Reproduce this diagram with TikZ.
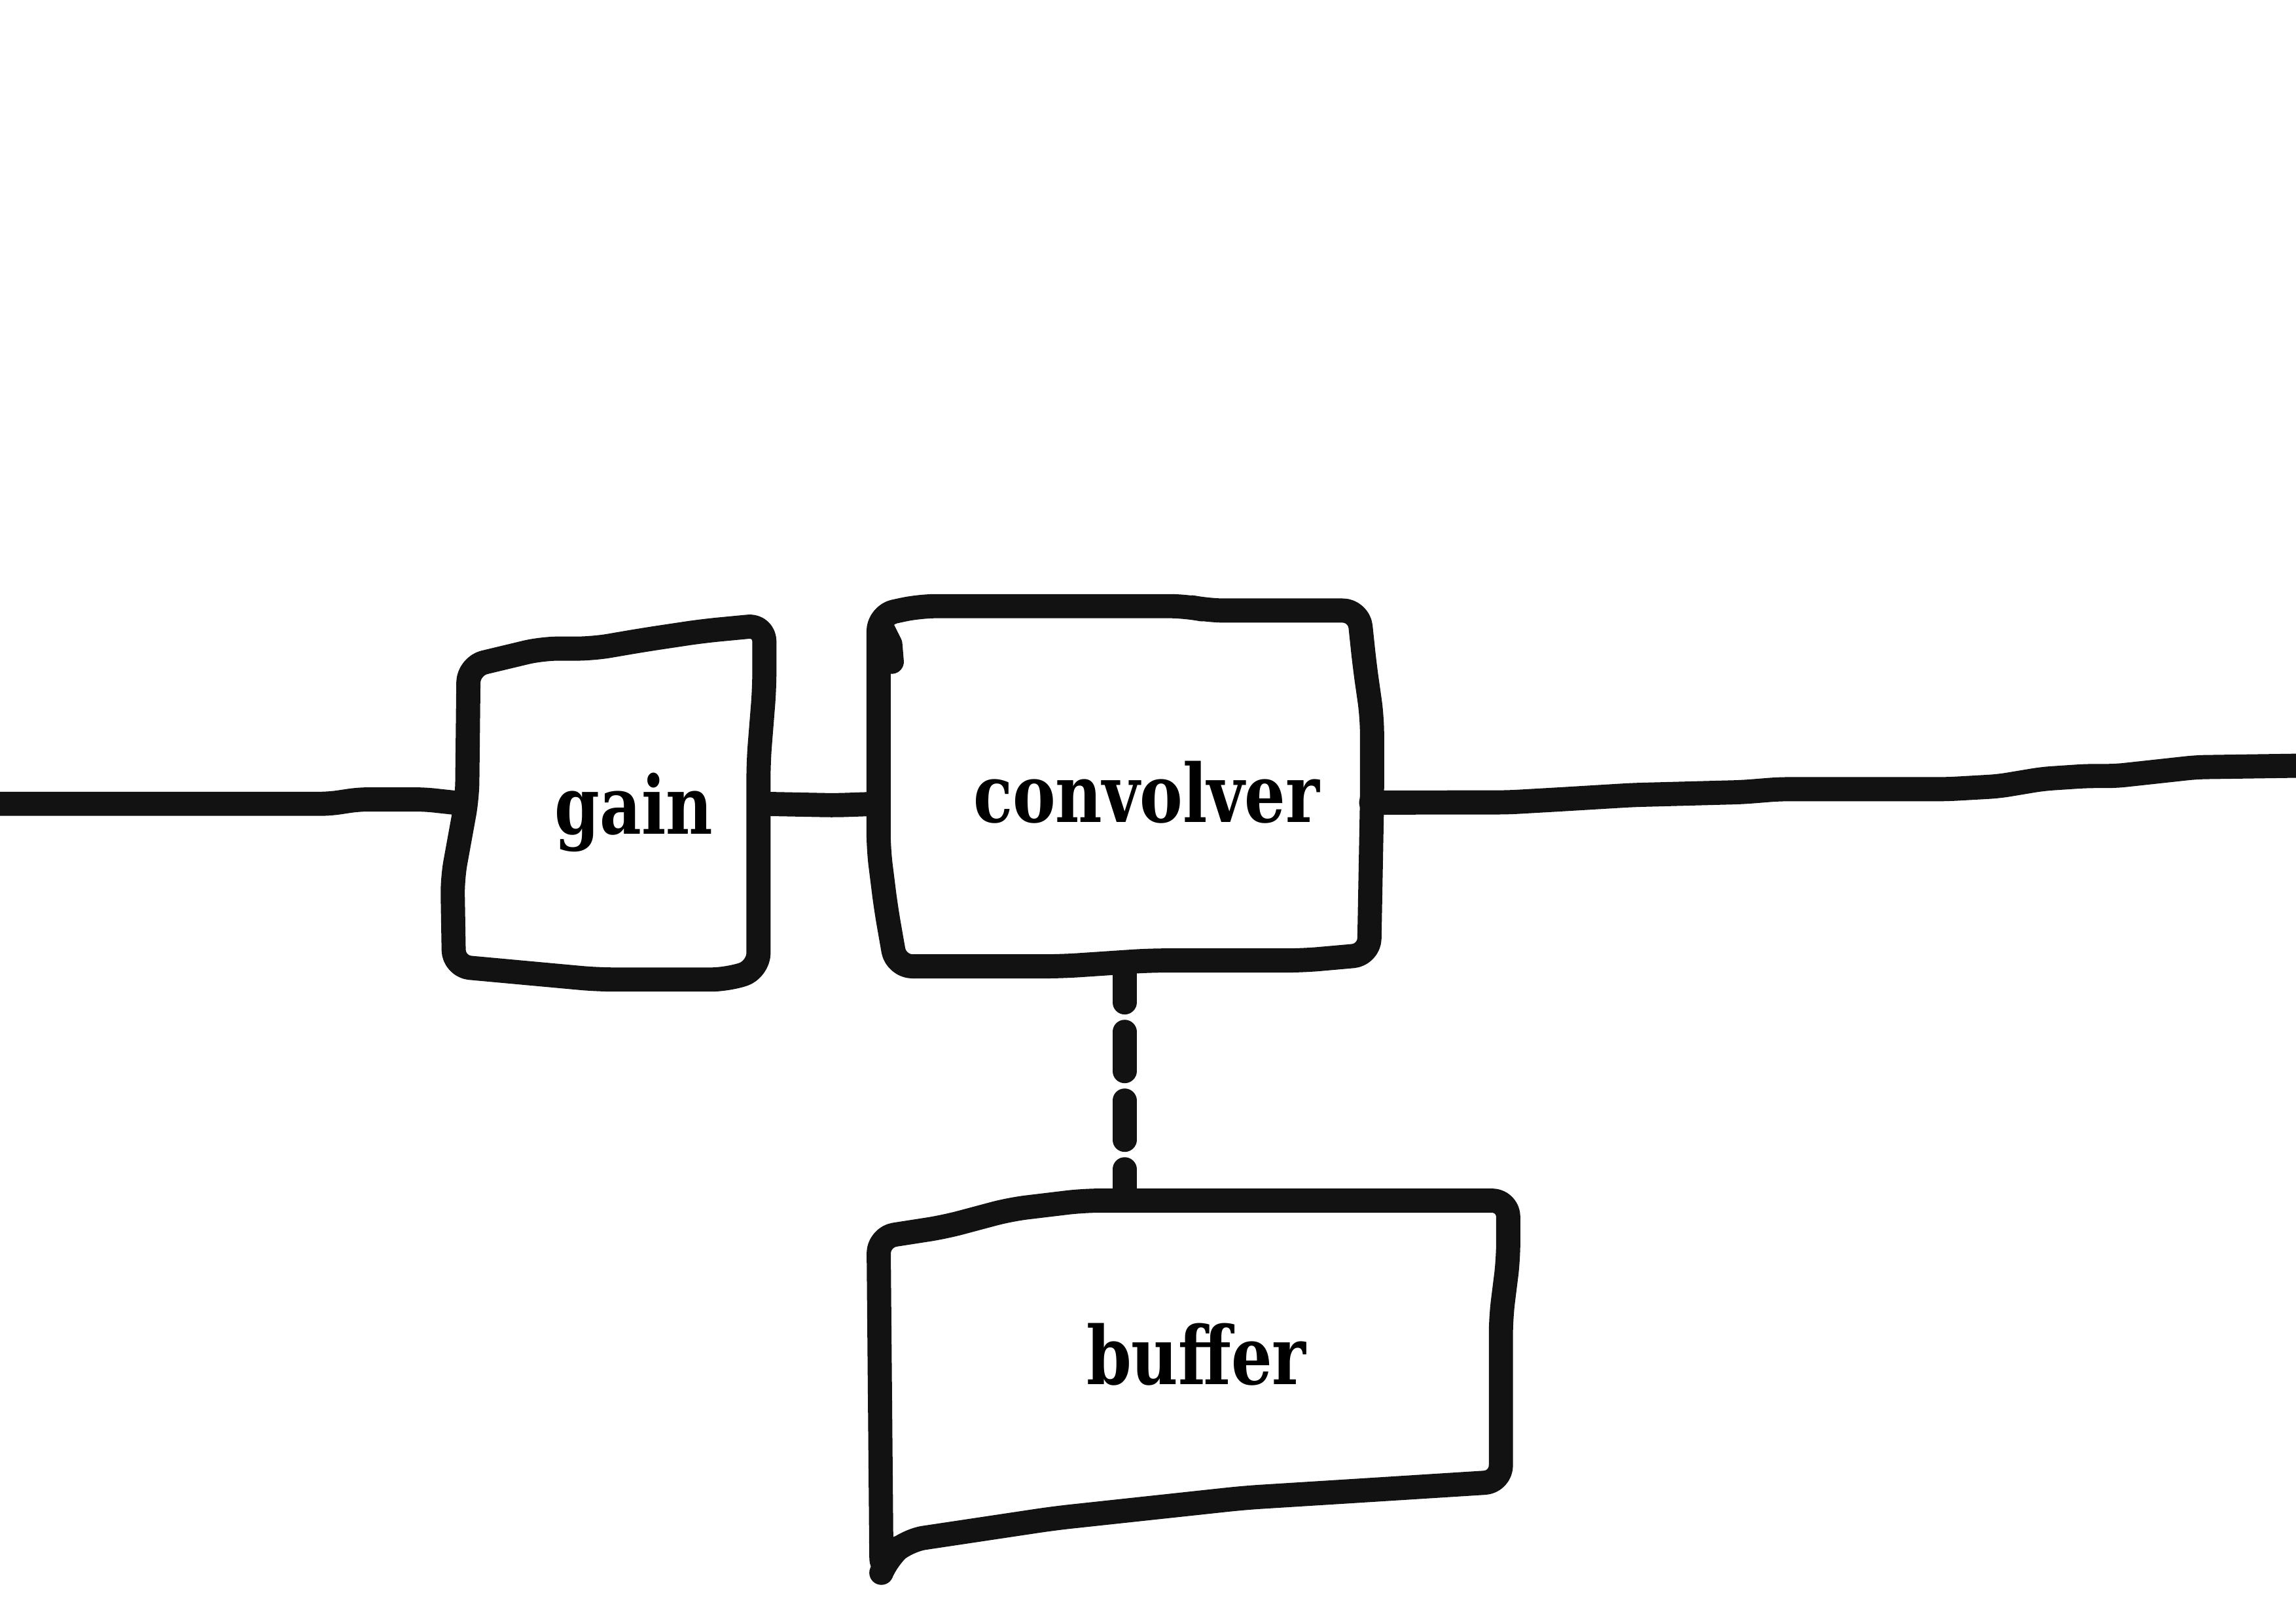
\documentclass[tikz,border=0pt]{standalone}
\usepackage{fontspec}
\setmainfont{DejaVu Serif}
\newfontfamily\slabfont{DejaVu Serif}[FakeStretch=0.8]
\usetikzlibrary{positioning}

\begin{document}
\begin{tikzpicture}[
  x=0.02237cm, y=-0.02237cm,
  pen/.style = {line width=10.5pt, draw=black!93, line cap=round, line join=round},
  outline/.style = {pen, rounded corners=7pt},
  wire/.style = {pen, rounded corners=4pt},
  dotwire/.style = {pen, dash pattern=on 0.6cm off 0.45cm},
  box/.style = {inner sep=0pt},
  txt/.style = {font=\slabfont\bfseries\fontsize{35}{40}\selectfont, inner sep=0pt}
]

  \useasboundingbox (0,0) rectangle (1568,1108.5);

  % Box areas (the outlines are drawn by hand below)
  \node[box, minimum width=4.52cm, minimum height=5.06cm] (gain) at (419,549) {};
  \node[box, minimum width=7.52cm, minimum height=5.39cm] (conv) at (768,537) {};
  \node[box, minimum width=9.57cm, minimum height=4.92cm] (buf) at (814,930) {};

  % Labels
  \node[txt] (gain-label) at (433,555) {gain};
  \node[txt] (conv-label) at (783,541) {convolver};
  \node[txt] (buf-label) at (817,925) {buffer};

  % Free ends of the signal line
  \coordinate (in) at (0,549);
  \coordinate (out) at (1568,523);

  % Sketchy outlines
  \draw[outline] (320,455) -- (370,443) -- (405,443) -- (440,437) -- (480,431)
    -- (522,427) -- (522,470) -- (518,520) -- (518,662) -- (497,669)
    -- (408,669) -- (310,660) -- (309,600) -- (319,545) -- cycle;
  \draw[outline] (600,420) -- (628,414) -- (810,414) -- (825,417) -- (928,417)
    -- (932,455) -- (937,490) -- (937,545) -- (935,652) -- (890,656)
    -- (785,656) -- (725,660) -- (612,660) -- (605,620) -- (600,580) -- cycle;
  \draw[pen] (602,428) -- (608,440) -- (609,452);
  \draw[outline] (600,845) -- (645,838) -- (690,826) -- (740,820) -- (1030,820)
    -- (1030,860) -- (1025,900) -- (1025,1012) -- (930,1018) -- (850,1023)
    -- (720,1037) -- (620,1052) -- (606,1064) -- (602,1074) -- cycle;

  % Signal path: in -> gain -> convolver -> out
  \draw[wire] (in) -- (225,549) -- (245,546) -- (290,546) -- (gain.west);
  \draw[wire] (gain.east) -- (570,550) -- (conv.west |- gain.east);
  \draw[wire] ([yshift=-0.25cm]conv.east) -- (1030,548) -- (1065,546) -- (1115,543)
    -- (1190,541) -- (1215,539) -- (1330,539) -- (1365,537) -- (1395,532)
    -- (1425,530) -- (1445,530) -- (1500,524) -- (out);

  % Convolver reads from the buffer
  \draw[dotwire] (conv.south) -- (conv.south |- buf.north);

\end{tikzpicture}
\end{document}
